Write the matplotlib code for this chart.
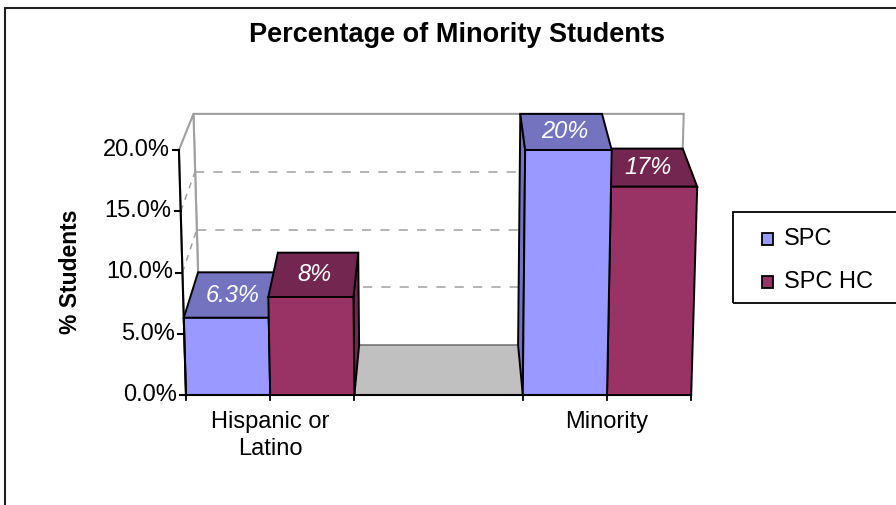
import matplotlib
matplotlib.use("Agg")
import matplotlib.pyplot as plt
from matplotlib.patches import Polygon, Rectangle

plt.rcParams['font.family'] = ['Liberation Sans', 'DejaVu Sans']

# ---- data ----
categories = ["Hispanic or\nLatino", "Minority"]
series_names = ["SPC", "SPC HC"]
spc = [6.3, 20.0]
spc_hc = [8.0, 17.0]
yticks = [0, 5, 10, 15, 20]
ytick_labels = ["0.0%", "5.0%", "10.0%", "15.0%", "20.0%"]
title = "Percentage of Minority Students"
ylabel = "% Students"

# ---- style ----
front_cols = ["#9999FF", "#993366"]
top_cols = ["#7373BF", "#732650"]
floor_col = "#C0C0C0"
wall_edge = "#A0A0A0"
FS = 17

W, H = 896, 505
fig = plt.figure(figsize=(W / 100, H / 100), dpi=100)
ax = fig.add_axes([0, 0, 1, 1])
ax.set_axis_off()
# data units: x in bar widths, y in percent
X0_PX, XU_PX, Y0_PX, YU_PX = 186, 84.2, 395, 12.25
ax.set_xlim(-X0_PX / XU_PX, (W - X0_PX) / XU_PX)
ax.set_ylim((Y0_PX - H) / YU_PX, Y0_PX / YU_PX)

n_cat = len(categories)
n_ser = 2
group_w = 4  # bars + gap, in bar units
x_max = group_w * (n_cat - 1) + n_ser
ymax = max(yticks)

# simple perspective model
CX = x_max / 2
A_TILT = 0.0014
DEPTH = 0.056
VPY = 72.65


def proj(x, y, z):
    xf = CX + (x - CX) * (1 + A_TILT * y)
    k = 1 - DEPTH * z
    return (CX + (xf - CX) * k, VPY + (y - VPY) * k)


def face(pts, fc, ec, lw=1.4, z=1):
    ax.add_patch(Polygon([proj(*p) for p in pts], closed=True, fc=fc, ec=ec,
                         lw=lw, joinstyle='miter', zorder=z))


def line(p1, p2, **kw):
    a, b = proj(*p1), proj(*p2)
    ax.plot([a[0], b[0]], [a[1], b[1]], **kw)


# walls and floor
face([(0, 0, 1), (x_max, 0, 1), (x_max, ymax, 1), (0, ymax, 1)], "white", wall_edge, 1.5, 1)
face([(0, 0, 0), (0, 0, 1), (0, ymax, 1), (0, ymax, 0)], "white", wall_edge, 1.5, 1)
face([(0, 0, 0), (x_max, 0, 0), (x_max, 0, 1), (0, 0, 1)], floor_col, "#808080", 1.2, 2)

for t in yticks[1:-1]:
    line((0, t, 1), (x_max, t, 1), color=wall_edge, lw=1.1, ls=(0, (6, 6)), zorder=2)
    line((0, t, 0), (0, t, 1), color=wall_edge, lw=1.1, ls=(0, (4, 4)), zorder=2)

# bars
values = [spc, spc_hc]
bars = []
for c in range(n_cat):
    for s in range(n_ser):
        x0 = c * group_w + s
        bars.append((x0, x0 + 1, values[s][c], s))
# painter's order: outer bars first
bars.sort(key=lambda b: -abs((b[0] + b[1]) / 2 - CX))
zo = 3
for x0, x1, v, s in bars:
    if x1 <= CX:
        side = [(x1, 0, 0), (x1, v, 0), (x1, v, 1), (x1, 0, 1)]
    else:
        side = [(x0, 0, 0), (x0, v, 0), (x0, v, 1), (x0, 0, 1)]
    face(side, top_cols[s], "black", 1.4, zo)
    face([(x0, v, 0), (x1, v, 0), (x1, v, 1), (x0, v, 1)], top_cols[s], "black", 1.4, zo)
    face([(x0, 0, 0), (x1, 0, 0), (x1, v, 0), (x0, v, 0)], front_cols[s], "black", 1.4, zo)
    cx, cy = proj((x0 + x1) / 2, v, 0.5)
    ax.text(cx, cy, f"{v:g}%", color="white", fontsize=FS, style="italic",
            ha="center", va="center", zorder=zo + 1)
    zo += 2

# axes lines
line((0, 0, 0), (0, ymax, 0), color="black", lw=1.5, zorder=30)
line((0, 0, 0), (x_max, 0, 0), color="black", lw=1.5, zorder=30)
tick_dx = 6 / XU_PX
for t, lab in zip(yticks, ytick_labels):
    px, py = proj(0, t, 0)
    ax.plot([px - tick_dx, px], [py, py], color="black", lw=1.5, zorder=30)
    ax.text(px - tick_dx - 0.04, py, lab, fontsize=FS, ha="right", va="center")

tick_dy = 5 / YU_PX
for c in range(n_cat):
    for s in range(n_ser + 1):
        xt = c * group_w + s
        px, py = proj(xt, 0, 0)
        ax.plot([px, px], [py, py - tick_dy], color="black", lw=1.3, zorder=30)
    ax.text(c * group_w + n_ser / 2, -16 / YU_PX, categories[c], fontsize=FS,
            ha="center", va="top", linespacing=1.3)

# title and y label
fig.text(457 / W, 1 - 35 / H, title, fontsize=19.5, fontweight="bold",
         ha="center", va="center")
fig.text(70 / W, 1 - 272 / H, ylabel, fontsize=16.5, fontweight="bold",
         rotation=90, ha="center", va="center")

# legend (drawn manually to match box geometry)
fig.patches.append(Rectangle((733 / W, 1 - 303 / H), (W - 733 + 5) / W, 91 / H,
                             transform=fig.transFigure, fill=False, ec="black", lw=1.3))
for i, name in enumerate(series_names):
    yc = 239 + 43 * i
    fig.patches.append(Rectangle((762 / W, 1 - (yc + 6) / H), 11 / W, 12 / H,
                                 transform=fig.transFigure, fc=front_cols[i], ec="black", lw=1.3))
    fig.text(784 / W, 1 - yc / H, name, fontsize=FS, ha="left", va="center")

# outer frame
fig.patches.append(Rectangle((5 / W, -0.1), 2, 1.1 - 8 / H, transform=fig.transFigure,
                             fill=False, ec="#202020", lw=1.5))

fig.savefig("out.png", dpi=100)
